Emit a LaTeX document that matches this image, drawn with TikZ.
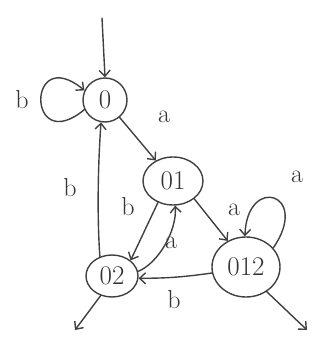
\documentclass[tikz,border=0pt]{standalone}
\usetikzlibrary{arrows.meta,shapes.geometric}
\begin{document}
\begin{tikzpicture}[x=1pt,y=1pt,
  pencil/.style={draw=black!75, line width=1.4pt, line cap=round, line join=round},
  trans/.style={pencil, -{Straight Barb[length=6pt,width=11pt]}},
  state/.style={pencil, ellipse, inner sep=0pt, font=\fontsize{27}{29}\selectfont, text=black!80},
  lbl/.style={font=\fontsize{26}{28}\selectfont, text=black!80, inner sep=0pt}]
  \useasboundingbox (0,0) rectangle (326,338);

  % states
  \node[state, minimum width=44, minimum height=44] (q0)   at (105,238) {0};
  \node[state, minimum width=60, minimum height=48] (q01)  at (173,157) {01};
  \node[state, minimum width=52, minimum height=42] (q02)  at (112,62)  {02};
  \node[state, minimum width=68, minimum height=60] (q012) at (246,71)  {012};

  % start and exit points
  \coordinate (start) at (102,320);
  \coordinate (out02) at (75,8);
  \coordinate (out012) at (307,8);

  % initial arrow
  \draw[trans] (start) -- (q0.north);

  % loop on 0
  \draw[trans] (q0.205) .. controls +(-58,-48) and +(-58,48) .. (q0.155);
  \node[lbl] (lb0) at (22,238) {b};

  % 0 -> 01
  \draw[trans] (q0.-50) -- (q01.130);
  \node[lbl] (la0) at (164,221) {a};

  % 01 -> 02
  \draw[trans] (q01.235) -- (q02.40);
  \node[lbl] (lb1) at (128,131) {b};

  % 02 -> 01
  \draw[trans] (q02.10) .. controls +(20,8) and +(2,-25) .. (q01.-85);
  \node[lbl] (la1) at (171,95) {a};

  % 01 -> 012
  \draw[trans] (q01.-40) -- (q012.125);
  \node[lbl] (la2) at (234,128) {a};

  % loop on 012
  \draw[trans] (q012.35) .. controls +(38,55) and +(2,62) .. (q012.92);
  \node[lbl] (la3) at (297,161) {a};

  % 012 -> 02
  \draw[trans] (q012.190) to[bend left=4] (q02.-5);
  \node[lbl] (lb2) at (174,38) {b};

  % 02 -> 0
  \draw[trans] (q02.122) .. controls +(-3,40) and +(-3,-40) .. (q0.-100);
  \node[lbl] (lb3) at (70,150) {b};

  % exits from accepting states
  \draw[trans] (q02.240) -- (out02);
  \draw[trans] (q012.-50) -- (out012);
\end{tikzpicture}
\end{document}
